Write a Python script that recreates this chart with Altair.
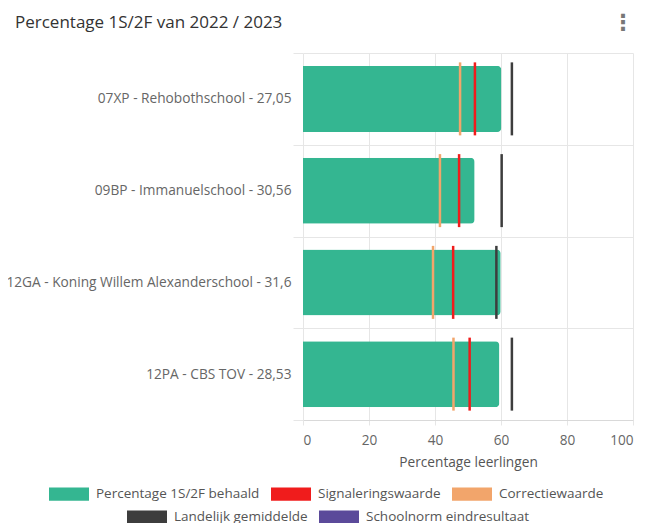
import altair as alt
import pandas as pd

schools = [
    "07XP - Rehobothschool - 27,05",
    "09BP - Immanuelschool - 30,56",
    "12GA - Koning Willem Alexanderschool - 31,6",
    "12PA - CBS TOV - 28,53",
]
behaald = [60.1, 52.0, 59.9, 59.5]
signalering = [52.1, 47.3, 45.5, 50.5]
correctie = [47.6, 41.5, 39.4, 45.6]
landelijk = [63.3, 60.2, 58.6, 63.3]

legend1 = ["Percentage 1S/2F behaald", "Signaleringswaarde", "Correctiewaarde"]
legend1_colors = ["#34b691", "#f01c1c", "#f2a56b"]
legend2 = ["Landelijk gemiddelde", "Schoolnorm eindresultaat"]
legend2_colors = ["#3d3d3d", "#5b4a9a"]

title_text = ["Percentage 1S/2F van 2022 / 2023"]
menu_icon = ["⋮"]

FONT = "Open Sans"

bar_df = pd.DataFrame({"school": schools, "value": behaald, "series": legend1[0]})
ro_df = pd.concat([
    pd.DataFrame({"school": schools, "value": signalering, "series": legend1[1]}),
    pd.DataFrame({"school": schools, "value": correctie, "series": legend1[2]}),
])
land_df = pd.DataFrame({"school": schools, "value": landelijk})
dummy_df = pd.DataFrame({"series": legend2})
menu_df = pd.DataFrame({"icon": menu_icon})
title_df = pd.DataFrame({"t": title_text})

y_enc = alt.Y(
    "school:N",
    sort=schools,
    scale=alt.Scale(paddingInner=0, paddingOuter=0),
    axis=alt.Axis(
        title=None, tickBand="extent", grid=True, gridColor="#e6e6e6",
        tickColor="#e6e6e6", tickSize=10, labelPadding=2, domain=False,
        labelFontSize=13.7, labelColor="#666", labelLimit=400, labelFont=FONT,
    ),
)
x_enc = alt.X(
    "value:Q",
    scale=alt.Scale(domain=[0, 100], nice=False),
    axis=alt.Axis(
        values=[0, 20, 40, 60, 80, 100], title="Percentage leerlingen",
        grid=True, gridColor="#e6e6e6", tickColor="#e6e6e6", tickSize=5,
        domainColor="#d9d9d9", labelFontSize=13.6, labelColor="#666",
        labelPadding=8, labelFont=FONT, titleFont=FONT, titleFontSize=13.7,
        titleFontWeight="normal", titleColor="#555", titlePadding=9,
    ),
)

legend_common = dict(
    orient="none", direction="horizontal", title=None,
    symbolType="M-1,-0.335H1V0.335H-1Z", symbolSize=1600, symbolStrokeWidth=0,
    symbolOpacity=1,
    labelFontSize=13.5, labelColor="#555", labelFont=FONT, labelOffset=7,
    columnPadding=11, labelLimit=300,
)

bars = alt.Chart(bar_df).mark_bar(size=66, cornerRadiusEnd=4, opacity=1).encode(
    x=x_enc, y=y_enc,
    color=alt.Color(
        "series:N",
        scale=alt.Scale(domain=legend1, range=legend1_colors),
        legend=alt.Legend(legendX=-254, legendY=421, **legend_common),
    ),
)
ro_ticks = alt.Chart(ro_df).mark_tick(
    orient="vertical", size=73, thickness=2.5, opacity=1
).encode(
    x="value:Q", y=alt.Y("school:N", sort=schools), color="series:N",
)
inner = alt.layer(bars, ro_ticks)

land_ticks = alt.Chart(land_df).mark_tick(
    orient="vertical", size=73, thickness=2.5, color="#3d3d3d", opacity=1
).encode(x="value:Q", y=alt.Y("school:N", sort=schools))

dummy = alt.Chart(dummy_df).mark_bar(opacity=1).encode(
    color=alt.Color(
        "series:N",
        scale=alt.Scale(domain=legend2, range=legend2_colors),
        legend=alt.Legend(legendX=-176, legendY=444, **legend_common),
    ),
).transform_filter("false")

menu = alt.Chart(menu_df).mark_text(
    fontSize=22, fontWeight="bold", color="#777", font="DejaVu Sans", baseline="middle"
).encode(text="icon:N", x=alt.value(320), y=alt.value(-30))

title = alt.Chart(title_df).mark_text(
    fontSize=17, color="#333", font=FONT, align="left", baseline="alphabetic"
).encode(text="t:N", x=alt.value(-288), y=alt.value(-25))

chart = alt.layer(inner, land_ticks, dummy, menu, title).resolve_scale(color="independent").properties(
    width=330, height=367,
    autosize=alt.AutoSizeParams(type="none"),
    padding={"left": 295, "top": 45, "right": 2, "bottom": 110},
).configure_view(stroke=None)

chart.save("out.html", embed_options={"renderer": "svg", "actions": False})
